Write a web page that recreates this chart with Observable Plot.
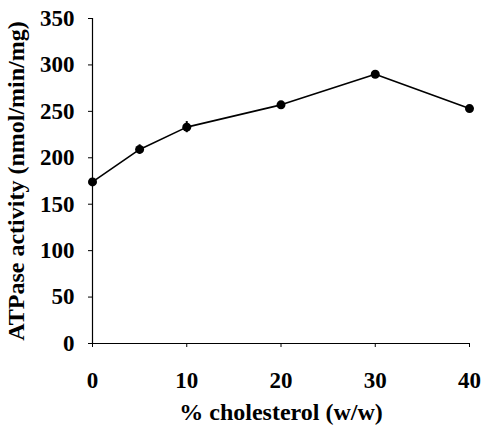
<!DOCTYPE html>
<html>
<head>
<meta charset="utf-8">
<script src="https://cdn.jsdelivr.net/npm/d3@7"></script>
<script src="https://cdn.jsdelivr.net/npm/@observablehq/plot@0.6"></script>
<style>
  html, body { margin: 0; padding: 0; background: #fff; }
  #chart svg { display: block; }
</style>
</head>
<body>
<div id="chart"></div>
<script>
const cholesterol = [0, 5, 10, 20, 30, 40];
const activity = [174, 209, 233, 257, 290, 253];
const errors = [3, 5, 6, 3, 3, 3];
const xTicks = [0, 10, 20, 30, 40];
const yTicks = [0, 50, 100, 150, 200, 250, 300, 350];
const xLabel = "% cholesterol (w/w)";
const yLabel = "ATPase activity (nmol/min/mg)";

const data = cholesterol.map((c, i) => ({x: c, y: activity[i], lo: activity[i] - errors[i], hi: activity[i] + errors[i]}));

const chart = Plot.plot({
  width: 483,
  height: 430,
  marginLeft: 92,
  marginRight: 14,
  marginTop: 18,
  marginBottom: 87,
  style: {fontFamily: "'Liberation Serif', 'Times New Roman', serif", fontWeight: "bold", color: "#000", background: "#fff"},
  x: {domain: [0, 40]},
  y: {domain: [0, 350]},
  marks: [
    Plot.axisY({ticks: yTicks, tickSize: 4, tickPadding: 14, fontSize: 23, label: yLabel, labelAnchor: "center", labelArrow: "none", labelOffset: 86}),
    Plot.axisX({ticks: xTicks, tickSize: 4, tickPadding: 24, fontSize: 23, label: xLabel, labelAnchor: "center", labelArrow: "none", labelOffset: 76}),
    Plot.ruleX([0], {stroke: "#000", strokeWidth: 1.2}),
    Plot.ruleY([0], {stroke: "#000", strokeWidth: 1.2}),
    Plot.ruleX(data, {x: "x", y1: "lo", y2: "hi", stroke: "#000", strokeWidth: 2}),
    Plot.line(data, {x: "x", y: "y", stroke: "#000", strokeWidth: 1.6}),
    Plot.dot(data, {x: "x", y: "y", r: 4.5, fill: "#000", stroke: "none"})
  ]
});
chart.querySelectorAll("text").forEach(t => t.style.fontWeight = "bold");
chart.querySelectorAll("[aria-label='y-axis label'] text, [aria-label='x-axis label'] text").forEach(t => t.style.fontSize = "24px");
document.getElementById("chart").appendChild(chart);
</script>
</body>
</html>
